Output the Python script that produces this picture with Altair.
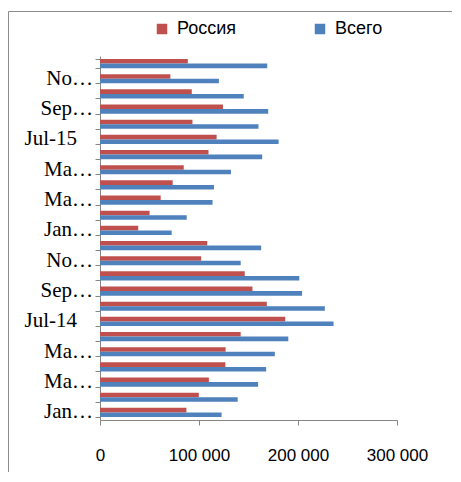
import altair as alt
import pandas as pd

months = ["Jan-14", "Feb-14", "Mar-14", "Apr-14", "May-14", "Jun-14",
          "Jul-14", "Aug-14", "Sep-14", "Oct-14", "Nov-14", "Dec-14",
          "Jan-15", "Feb-15", "Mar-15", "Apr-15", "May-15", "Jun-15",
          "Jul-15", "Aug-15", "Sep-15", "Oct-15", "Nov-15", "Dec-15"]
shown = ["Jan…", "", "Ma…", "", "Ma…", "", "Jul-14", "", "Sep…", "", "No…", "",
         "Jan…", "", "Ma…", "", "Ma…", "", "Jul-15", "", "Sep…", "", "No…", ""]
russia = [87300, 99800, 110000, 126600, 126900, 142100, 187100, 168500, 154000, 146200, 102200, 108300,
          38600, 50100, 61300, 73400, 84600, 109600, 117800, 93400, 124200, 92700, 71100, 88700]
total = [122800, 139100, 159700, 167800, 176600, 190200, 235900, 227100, 204100, 201300, 142100, 162800,
         72400, 87600, 113700, 115100, 132300, 163800, 180400, 160100, 169900, 145200, 120100, 168900]
series = ["Россия", "Всего"]
colors = ["#C0504D", "#4F81BD"]
xticks = [0, 100000, 200000, 300000]

rows = []
for m, r, t in zip(months, russia, total):
    rows.append({"month": m, "series": series[0], "value": r})
    rows.append({"month": m, "series": series[1], "value": t})
df = pd.DataFrame(rows)
df_lab = pd.DataFrame({"month": months, "label": shown})

yscale = alt.Scale(paddingInner=0.4, paddingOuter=0.2)
ysort = months[::-1]

bars = alt.Chart(df).mark_bar().encode(
    y=alt.Y("month:N", sort=ysort, scale=yscale,
            axis=alt.Axis(title=None, labels=False, tickBand="extent",
                          tickSize=5, tickColor="#868686", domainColor="#868686")),
    yOffset=alt.YOffset("series:N", sort=series),
    x=alt.X("value:Q", scale=alt.Scale(domain=[0, 300000], nice=False),
            axis=alt.Axis(title=None, values=xticks, grid=False, labelFlush=False,
                          labelExpr="replace(format(datum.value, ','), ',', ' ')",
                          labelFont="Liberation Sans", labelFontSize=17, labelColor="black",
                          labelPadding=22, tickSize=5, tickColor="#868686", domainColor="#868686")),
    color=alt.Color("series:N", sort=series,
                    scale=alt.Scale(domain=series, range=colors),
                    legend=alt.Legend(title=None, orient="none", direction="horizontal",
                                      legendX=53, legendY=-36, symbolType="square", symbolSize=110,
                                      symbolStrokeWidth=0, labelFont="Liberation Sans", labelFontSize=18,
                                      labelColor="black", labelOffset=6, columnPadding=74)),
)

lab_base = alt.Chart(df_lab).mark_text(font="Liberation Serif", fontSize=21, color="black",
                                       align="right", baseline="middle")
lab_short = lab_base.transform_filter(
    "datum.label != '' && indexof(datum.label, 'Jul') != 0"
).encode(y=alt.Y("month:N", sort=ysort, scale=yscale), x=alt.value(-7), text="label:N")
lab_jul = lab_base.transform_filter(
    "indexof(datum.label, 'Jul') == 0"
).encode(y=alt.Y("month:N", sort=ysort, scale=yscale), x=alt.value(-23), text="label:N")

frame_v = alt.Chart(pd.DataFrame({"a": [0]})).mark_rule(color="#8c8c8c", strokeWidth=1).encode(
    x=alt.value(-91.5), y=alt.value(-44.5), y2=alt.value(420))
frame_h = alt.Chart(pd.DataFrame({"a": [0]})).mark_rule(color="#8c8c8c", strokeWidth=1).encode(
    x=alt.value(-91.5), x2=alt.value(352), y=alt.value(-44.5))

chart = alt.layer(frame_v, frame_h, bars, lab_short, lab_jul).properties(
    width=297, height=364,
    autosize=alt.AutoSizeParams(type="none"),
    padding={"left": 92, "top": 48, "right": 55, "bottom": 52},
).configure_view(stroke=None)

chart.save("out.html", embed_options={"renderer": "svg", "actions": False})
